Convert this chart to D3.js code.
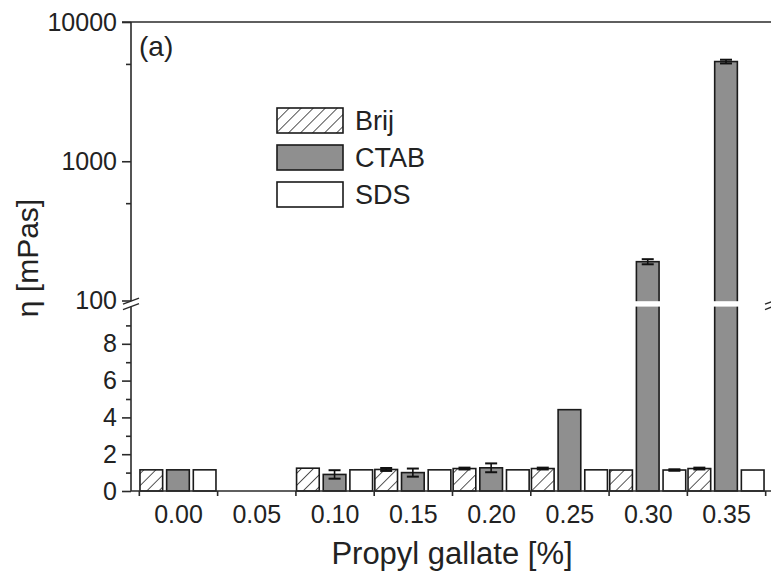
<!DOCTYPE html>
<html>
<head>
<meta charset="utf-8">
<script src="https://cdn.jsdelivr.net/npm/d3@7"></script>
<style>
  html, body { margin: 0; padding: 0; background: #fff; }
  svg { display: block; font-family: "Liberation Sans", Arial, sans-serif; }
</style>
</head>
<body>
<svg id="chart" width="771" height="574"></svg>
<script>
// ---- data ----
const categories = ["0.00", "0.05", "0.10", "0.15", "0.20", "0.25", "0.30", "0.35"];
const catValues = [0.00, 0.05, 0.10, 0.15, 0.20, 0.25, 0.30, 0.35];
const seriesNames = ["Brij", "CTAB", "SDS"];
const brijValues = [1.15, null, 1.24, 1.17, 1.22, 1.22, 1.14, 1.22];
const ctabValues = [1.15, null, 0.90, 1.00, 1.26, 4.42, 190, 5200];
const sdsValues  = [1.15, null, 1.15, 1.15, 1.15, 1.15, 1.14, 1.14];
const brijErrors = [0, null, 0, 0.08, 0.05, 0.05, 0, 0.05];
const ctabErrors = [0, null, 0.23, 0.22, 0.24, 0, 8, 160];
const sdsErrors  = [0, null, 0, 0, 0, 0, 0.04, 0];
const lowerTicks = [0, 2, 4, 6, 8];
const lowerMinorTicks = [1, 3, 5, 7, 9];
const upperTicks = [100, 1000, 10000];
const upperMinorTicks = [500, 5000];
const boundaryTicks = [-0.025, 0.025, 0.075, 0.125, 0.175, 0.225, 0.275, 0.325, 0.375];

const svg = d3.select("#chart");
const FONT = '"Liberation Sans", Arial, sans-serif';

// ---- scales ----
const x = d3.scaleLinear().domain([-0.03, 0.38]).range([131, 773]);
const yLow = d3.scaleLinear().domain([0, 10]).range([491, 307]);
const yUp = d3.scaleLog().domain([100, 10000]).range([300.5, 22]);
const yPos = v => (v <= 10 ? yLow(v) : yUp(v));
const band = d3.scaleBand().domain(seriesNames).range([-38, 38]).paddingInner(0.15);

// ---- patterns ----
const defs = svg.append("defs");
const pat = defs.append("pattern")
  .attr("id", "hatch").attr("patternUnits", "userSpaceOnUse")
  .attr("width", 8.5).attr("height", 8.5)
  .attr("patternTransform", "rotate(45)");
pat.append("rect").attr("width", 8.5).attr("height", 8.5).attr("fill", "#fff");
pat.append("line").attr("x1", 0).attr("y1", 0).attr("x2", 0).attr("y2", 8.5)
  .attr("stroke", "#444").attr("stroke-width", 1.8);

const fills = { Brij: "url(#hatch)", CTAB: "#8f8f8f", SDS: "#ffffff" };

// ---- bars ----
const rows = [];
seriesNames.forEach((s, si) => {
  const vals = [brijValues, ctabValues, sdsValues][si];
  const errs = [brijErrors, ctabErrors, sdsErrors][si];
  catValues.forEach((c, i) => {
    if (vals[i] != null) rows.push({ series: s, cat: c, value: vals[i], err: errs[i] });
  });
});

const barG = svg.append("g");
barG.selectAll("rect").data(rows).enter().append("rect")
  .attr("x", d => x(d.cat) + band(d.series))
  .attr("width", band.bandwidth())
  .attr("y", d => yPos(d.value))
  .attr("height", d => yLow(0) - yPos(d.value))
  .attr("fill", d => fills[d.series])
  .attr("stroke", "#1a1a1a").attr("stroke-width", 1.6);

// ---- error bars ----
const errG = svg.append("g").attr("stroke", "#111").attr("stroke-width", 1.6);
rows.filter(d => d.err > 0).forEach(d => {
  const cx = x(d.cat) + band(d.series) + band.bandwidth() / 2;
  const y1 = yPos(d.value + d.err), y2 = yPos(d.value - d.err);
  errG.append("line").attr("x1", cx).attr("x2", cx).attr("y1", y1).attr("y2", y2);
  [y1, y2].forEach(yy => errG.append("line")
    .attr("x1", cx - 6).attr("x2", cx + 6).attr("y1", yy).attr("y2", yy).attr("stroke-width", 2));
});

// ---- axis break gap ----
svg.append("rect").attr("x", 132).attr("y", 301.2).attr("width", 650).attr("height", 5.4).attr("fill", "#fff");

// ---- frame lines ----
const axisColor = "#2a2a2a";
svg.append("line").attr("x1", 131).attr("x2", 131).attr("y1", 22).attr("y2", 301.2)
  .attr("stroke", axisColor).attr("stroke-width", 1.6);
svg.append("line").attr("x1", 131).attr("x2", 131).attr("y1", 306.6).attr("y2", 491)
  .attr("stroke", axisColor).attr("stroke-width", 1.6);
svg.append("line").attr("x1", 122).attr("x2", 773).attr("y1", 22).attr("y2", 22)
  .attr("stroke", axisColor).attr("stroke-width", 1.6);
svg.append("line").attr("x1", 131).attr("x2", 773).attr("y1", 491).attr("y2", 491)
  .attr("stroke", axisColor).attr("stroke-width", 1.6);

// break marks
[131, 773].forEach(ax => {
  [301.2, 306.6].forEach(yy => {
    svg.append("line").attr("x1", ax - 8).attr("y1", yy + 3).attr("x2", ax + 8).attr("y2", yy - 3)
      .attr("stroke", axisColor).attr("stroke-width", 1.4);
  });
});

function styleAxis(g) {
  g.select(".domain").remove();
  g.selectAll(".tick line").attr("stroke", axisColor).attr("stroke-width", 1.6);
  g.selectAll(".tick text").attr("fill", "#222").style("font-family", FONT).style("font-size", "25px");
}

// ---- y axes ----
svg.append("g").attr("transform", "translate(131,0)")
  .call(d3.axisLeft(yUp).tickValues(upperTicks).tickFormat(d3.format("d")).tickSize(9).tickPadding(5))
  .call(styleAxis);
svg.append("g").attr("transform", "translate(131,0)")
  .call(d3.axisLeft(yUp).tickValues(upperMinorTicks).tickFormat("").tickSize(5))
  .call(styleAxis);
svg.append("g").attr("transform", "translate(131,0)")
  .call(d3.axisLeft(yLow).tickValues(lowerTicks).tickFormat(d3.format("d")).tickSize(9).tickPadding(5))
  .call(styleAxis);
svg.append("g").attr("transform", "translate(131,0)")
  .call(d3.axisLeft(yLow).tickValues(lowerMinorTicks).tickFormat("").tickSize(5))
  .call(styleAxis);

// ---- x axis ----
svg.append("g").attr("transform", "translate(0,491)")
  .call(d3.axisBottom(x).tickValues(boundaryTicks).tickFormat("").tickSize(5))
  .call(styleAxis);
const xl = svg.append("g").attr("transform", "translate(0,491)")
  .call(d3.axisBottom(x).tickValues(catValues).tickFormat((d, i) => categories[i]).tickSize(0).tickPadding(14))
  .call(styleAxis);
xl.selectAll(".tick line").remove();

// ---- titles ----
svg.append("text").attr("x", 452).attr("y", 564).attr("text-anchor", "middle")
  .style("font-family", FONT).style("font-size", "31px").attr("fill", "#222")
  .text("Propyl gallate [%]");
svg.append("text").attr("transform", "translate(38,258) rotate(-90)").attr("text-anchor", "middle")
  .style("font-family", FONT).style("font-size", "30px").attr("fill", "#222")
  .text("η [mPas]");
svg.append("text").attr("x", 139).attr("y", 56)
  .style("font-family", FONT).style("font-size", "28px").attr("fill", "#222")
  .text("(a)");

// ---- legend ----
const leg = svg.append("g");
seriesNames.forEach((s, i) => {
  const yy = 108 + i * 37;
  leg.append("rect").attr("x", 277).attr("y", yy).attr("width", 66).attr("height", 25)
    .attr("fill", fills[s]).attr("stroke", "#1a1a1a").attr("stroke-width", 1.6);
  leg.append("text").attr("x", 355).attr("y", yy + 22)
    .style("font-family", FONT).style("font-size", "27px").attr("fill", "#222").text(s);
});
</script>
</body>
</html>
